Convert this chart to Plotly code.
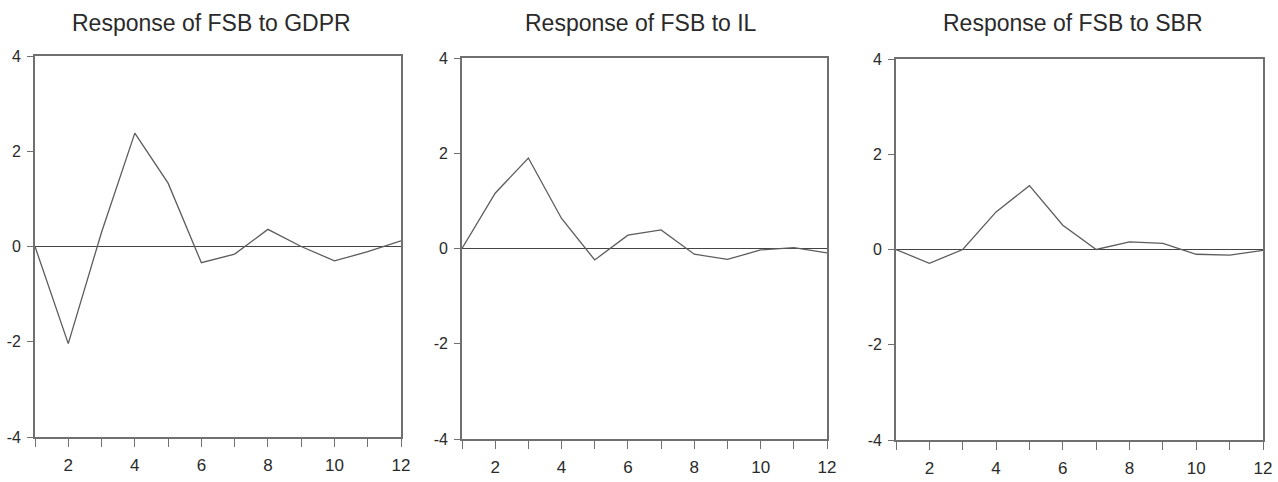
import plotly.graph_objects as go

periods = list(range(1, 13))
titles = ["Response of FSB to GDPR", "Response of FSB to IL", "Response of FSB to SBR"]
resp_gdpr = [0.0, -2.04, 0.30, 2.38, 1.33, -0.34, -0.16, 0.36, 0.0, -0.30, -0.11, 0.12]
resp_il = [0.0, 1.16, 1.90, 0.63, -0.24, 0.28, 0.39, -0.12, -0.23, -0.03, 0.02, -0.09]
resp_sbr = [0.0, -0.29, 0.0, 0.79, 1.34, 0.51, 0.0, 0.16, 0.13, -0.10, -0.12, -0.02]
y_ticks = [-4, -2, 0, 2, 4]
y_ticktext = ["-4", "-2", "0", "2", "4"]
x_ticks = periods
x_ticktext = [str(p) if p % 2 == 0 else "" for p in periods]

series = [resp_gdpr, resp_il, resp_sbr]

W, H = 1278, 482
x_px = [(35, 401), (462, 827), (896, 1263)]
y_px = [(56, 437), (58, 439), (59, 440)]
title_cx = [211, 641, 1073]

font_family = "Liberation Sans, Arial, sans-serif"
fig = go.Figure()

for i, vals in enumerate(series):
    sfx = "" if i == 0 else str(i + 1)
    fig.add_trace(go.Scatter(
        x=periods, y=vals, mode="lines",
        line=dict(color="#5c5c5c", width=1.3),
        xaxis="x" + sfx, yaxis="y" + sfx, showlegend=False,
    ))
    xd = [x_px[i][0] / W, x_px[i][1] / W]
    yd = [1 - y_px[i][1] / H, 1 - y_px[i][0] / H]
    fig.layout["xaxis" + sfx] = dict(
        domain=xd, range=[1, 12], anchor="y" + sfx, automargin=False,
        tickmode="array", tickvals=x_ticks, ticktext=x_ticktext,
        ticks="outside", ticklen=8, tickwidth=1.3, tickcolor="#707070",
        showline=True, linecolor="#707070", linewidth=1.8, mirror=True,
        showgrid=False, zeroline=False, ticklabelstandoff=4,
        tickfont=dict(family=font_family, size=17, color="#2a2a2a"),
    )
    fig.layout["yaxis" + sfx] = dict(
        domain=yd, range=[-4, 4], anchor="x" + sfx, automargin=False,
        tickmode="array", tickvals=y_ticks, ticktext=y_ticktext,
        ticks="outside", ticklen=6, tickwidth=1.2, tickcolor="#707070",
        showline=True, linecolor="#707070", linewidth=1.8, mirror=True,
        showgrid=False, zeroline=True, zerolinecolor="#444444", zerolinewidth=1.2,
        ticklabelstandoff=3,
        tickfont=dict(family=font_family, size=16, color="#2a2a2a"),
    )
    fig.add_annotation(
        text=titles[i], xref="paper", yref="paper",
        x=title_cx[i] / W, y=1 - 23 / H, xanchor="center", yanchor="middle",
        showarrow=False, font=dict(family=font_family, size=23, color="#2a2a2a"),
    )

fig.update_layout(
    template="none",
    width=W, height=H,
    margin=dict(l=0, r=0, t=0, b=0),
    paper_bgcolor="white", plot_bgcolor="white",
)

fig.write_html(
    "out.html",
    config={"displayModeBar": False},
    post_script="document.body.style.margin='0';document.body.style.overflow='hidden';",
)
